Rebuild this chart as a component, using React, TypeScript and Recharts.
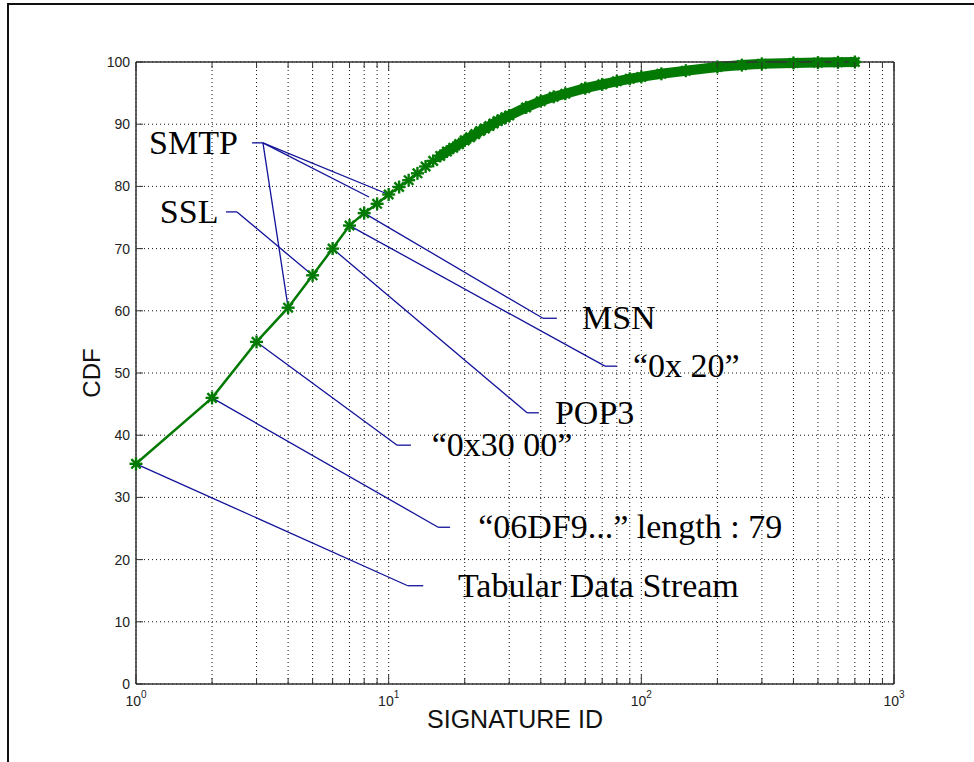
import { CartesianGrid, Line, LineChart, ReferenceDot, ReferenceLine, XAxis, YAxis } from "recharts";

// signature id -> cumulative share of traffic (%)
const signatureIds = [
  1, 2, 3, 4, 5, 6, 7, 8, 9, 10, 11, 12, 13, 14, 15, 16, 17, 18, 19, 20,
  21, 22, 23, 24, 25, 26, 27, 28, 29, 30, 35, 40, 45, 50, 60, 70, 80, 90,
  100, 120, 150, 200, 250, 300, 400, 500, 600, 700,
];
const cdfPercent = [
  35.4, 46.0, 55.0, 60.5, 65.7, 70.0, 73.7, 75.7, 77.2, 78.7, 79.9, 81.0, 82.1, 83.2, 84.1, 84.9, 85.6, 86.2, 86.8, 87.4,
  87.9, 88.4, 88.9, 89.3, 89.7, 90.1, 90.5, 90.8, 91.1, 91.4, 92.7, 93.7, 94.4, 94.9, 95.8, 96.4, 96.9, 97.3,
  97.6, 98.1, 98.6, 99.2, 99.5, 99.7, 99.85, 99.9, 99.95, 100,
];
// from here on the stars overlap into one thick band
const bandFromId = 16;

const xTicks = [1, 2, 3, 4, 5, 6, 7, 8, 9, 10, 20, 30, 40, 50, 60, 70, 80, 90, 100, 200, 300, 400, 500, 600, 700, 800, 900, 1000];
const yTicks = [0, 10, 20, 30, 40, 50, 60, 70, 80, 90, 100];

const data = signatureIds.map((id, i) => ({
  id,
  cdf: cdfPercent[i],
  band: id >= bandFromId ? cdfPercent[i] : null,
}));

const cdfAt = (id: number) => cdfPercent[signatureIds.indexOf(id)];

type Note = {
  text: string;
  targets: [number, number][];
  elbow: [number, number];
  end: number;
  textX: number;
  anchor: "start" | "end";
};

const notes: Note[] = [
  { text: "SMTP", targets: [[4, cdfAt(4)], [8.36, 78.3], [10, cdfAt(10)]], elbow: [3.18, 87.0], end: 2.88, textX: 2.53, anchor: "end" },
  { text: "SSL", targets: [[5, cdfAt(5)]], elbow: [2.51, 75.9], end: 2.27, textX: 2.12, anchor: "end" },
  { text: "MSN", targets: [[8, cdfAt(8)]], elbow: [40.8, 58.8], end: 46.3, textX: 58.2, anchor: "start" },
  { text: "\u201C0x 20\u201D", targets: [[7, cdfAt(7)]], elbow: [71.8, 51.1], end: 80.1, textX: 92.6, anchor: "start" },
  { text: "POP3", targets: [[6, cdfAt(6)]], elbow: [35.3, 43.6], end: 39.3, textX: 45.5, anchor: "start" },
  { text: "\u201C0x30 00\u201D", targets: [[3, cdfAt(3)]], elbow: [10.8, 38.4], end: 12.25, textX: 14.8, anchor: "start" },
  { text: "\u201C06DF9...\u201D length : 79", targets: [[2, cdfAt(2)]], elbow: [15.7, 25.2], end: 17.5, textX: 22.6, anchor: "start" },
  { text: "Tabular Data Stream", targets: [[1, cdfAt(1)]], elbow: [11.9, 15.8], end: 13.7, textX: 18.8, anchor: "start" },
];

const GREEN = "#037a03";
const NAVY = "#12129a";
const AXIS = "#333";
const sans = "'Liberation Sans', Arial, Helvetica, sans-serif";
const serif = "'Liberation Serif', 'Times New Roman', serif";

const isDecade = (v: number) => Math.abs(Math.log10(v) - Math.round(Math.log10(v))) < 1e-9;

function Star(props: any) {
  const { cx, cy } = props;
  if (cx == null || cy == null) return null;
  const r = 6.5;
  const d = r * 0.72;
  return (
    <g stroke={GREEN} strokeWidth={2.4}>
      <line x1={cx - r} y1={cy} x2={cx + r} y2={cy} />
      <line x1={cx} y1={cy - r} x2={cx} y2={cy + r} />
      <line x1={cx - d} y1={cy - d} x2={cx + d} y2={cy + d} />
      <line x1={cx - d} y1={cy + d} x2={cx + d} y2={cy - d} />
    </g>
  );
}

function BottomTick({ x, y, payload }: any) {
  const v = payload.value;
  const major = isDecade(v);
  return (
    <g>
      <line x1={x} y1={y} x2={x} y2={y - (major ? 9 : 6)} stroke={AXIS} />
      {major && (
        <text x={x} y={y + 22} textAnchor="middle" fontSize={14} fill="#222" fontFamily={sans}>
          10<tspan dy={-8} fontSize={10}>{Math.round(Math.log10(v))}</tspan>
        </text>
      )}
    </g>
  );
}

function TopTick({ x, y, payload }: any) {
  const major = isDecade(payload.value);
  return <line x1={x} y1={y} x2={x} y2={y + (major ? 9 : 6)} stroke={AXIS} />;
}

function LeftTick({ x, y, payload }: any) {
  return (
    <g>
      <line x1={x} y1={y} x2={x + 7} y2={y} stroke={AXIS} />
      <text x={x - 6} y={y + 5} textAnchor="end" fontSize={14} fill="#222" fontFamily={sans}>
        {payload.value}
      </text>
    </g>
  );
}

function RightTick({ x, y }: any) {
  return <line x1={x} y1={y} x2={x - 7} y2={y} stroke={AXIS} />;
}

export default function App() {
  return (
    <div style={{ position: "relative", width: 958, height: 740 }}>
      {/* figure frame: only its left and top edges fall inside the window */}
      <div
        style={{
          position: "fixed",
          left: 7,
          top: 3,
          width: 1200,
          height: 1200,
          borderLeft: "2px solid #111",
          borderTop: "2px solid #111",
          pointerEvents: "none",
          zIndex: 5,
        }}
      />
      <LineChart width={958} height={740} data={data} margin={{ top: 44, right: 62, bottom: 14, left: 68 }}>
        <CartesianGrid stroke="#111" strokeDasharray="1 3" />
        <XAxis
          dataKey="id"
          type="number"
          scale="log"
          domain={[1, 1000]}
          ticks={xTicks}
          interval={0}
          height={50}
          tickSize={0}
          tickMargin={0}
          tickLine={false}
          tick={BottomTick}
          axisLine={{ stroke: AXIS, strokeWidth: 1.5 }}
          label={(p: any) => {
            const vb = p.viewBox;
            return (
              <text x={vb.x + vb.width / 2} y={vb.y + 44} textAnchor="middle" fontSize={25} fill="#111" fontFamily={sans}>
                SIGNATURE ID
              </text>
            );
          }}
        />
        <XAxis
          xAxisId="top"
          orientation="top"
          dataKey="id"
          type="number"
          scale="log"
          domain={[1, 1000]}
          ticks={xTicks}
          interval={0}
          height={10}
          tickSize={0}
          tickMargin={0}
          tickLine={false}
          tick={TopTick}
          axisLine={{ stroke: AXIS, strokeWidth: 1.5 }}
        />
        <YAxis
          type="number"
          domain={[0, 100]}
          ticks={yTicks}
          interval={0}
          width={60}
          tickSize={0}
          tickMargin={0}
          tickLine={false}
          tick={LeftTick}
          axisLine={{ stroke: AXIS, strokeWidth: 1.5 }}
          label={(p: any) => {
            const vb = p.viewBox;
            const cx = vb.x + vb.width - 36;
            const cy = vb.y + vb.height / 2;
            return (
              <text x={cx} y={cy} transform={`rotate(-90 ${cx} ${cy})`} textAnchor="middle" fontSize={24} fill="#111" fontFamily={sans}>
                CDF
              </text>
            );
          }}
        />
        <YAxis
          yAxisId="right"
          orientation="right"
          type="number"
          domain={[0, 100]}
          ticks={yTicks}
          interval={0}
          width={10}
          tickSize={0}
          tickMargin={0}
          tickLine={false}
          tick={RightTick}
          axisLine={{ stroke: AXIS, strokeWidth: 1.5 }}
        />
        <Line
          dataKey="band"
          stroke={GREEN}
          strokeWidth={10}
          strokeLinecap="round"
          dot={false}
          activeDot={false}
          isAnimationActive={false}
        />
        <Line
          dataKey="cdf"
          stroke={GREEN}
          strokeWidth={2.5}
          dot={<Star />}
          activeDot={false}
          isAnimationActive={false}
        />
        {notes.flatMap((n) => [
          ...n.targets.map((t, i) => (
            <ReferenceLine
              key={`${n.text}-t${i}`}
              segment={[{ x: t[0], y: t[1] }, { x: n.elbow[0], y: n.elbow[1] }]}
              stroke={NAVY}
              strokeWidth={1.3}
              ifOverflow="visible"
            />
          )),
          <ReferenceLine
            key={`${n.text}-h`}
            segment={[{ x: n.elbow[0], y: n.elbow[1] }, { x: n.end, y: n.elbow[1] }]}
            stroke={NAVY}
            strokeWidth={1.3}
            ifOverflow="visible"
          />,
          <ReferenceDot
            key={`${n.text}-label`}
            x={n.textX}
            y={n.elbow[1]}
            r={0}
            ifOverflow="visible"
            shape={(p: any) => (
              <text x={p.cx} y={p.cy + 11} textAnchor={n.anchor} fontSize={34} fill="#000" fontFamily={serif}>
                {n.text}
              </text>
            )}
          />,
        ])}
      </LineChart>
    </div>
  );
}
